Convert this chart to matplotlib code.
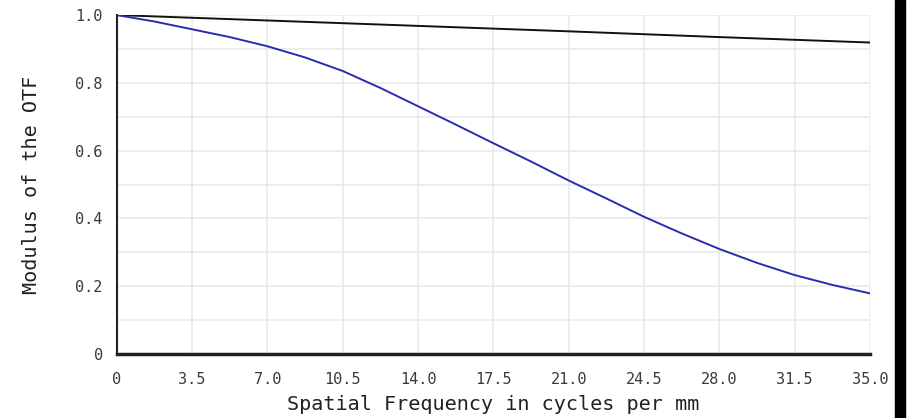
import matplotlib
matplotlib.use('Agg')
import matplotlib.pyplot as plt
from matplotlib.patches import Rectangle
import numpy as np

# spatial frequency samples (cycles per mm)
freq = [0, 1.75, 3.5, 5.25, 7.0, 8.75, 10.5, 12.25, 14.0, 15.75, 17.5,
        19.25, 21.0, 22.75, 24.5, 26.25, 28.0, 29.75, 31.5, 33.25, 35.0]
# traced MTF
mtf_lens = [1.0, 0.981, 0.958, 0.935, 0.908, 0.875, 0.835, 0.785, 0.731,
            0.677, 0.622, 0.568, 0.512, 0.459, 0.405, 0.356, 0.310, 0.269,
            0.233, 0.204, 0.179]
# diffraction limit
freq_diff = [0, 7.0, 14.0, 21.0, 28.0, 35.0]
mtf_diff = [1.0, 0.984, 0.968, 0.952, 0.935, 0.919]

xticks = np.arange(0, 35.01, 3.5)
xtick_labels = ['0'] + ['%.1f' % v for v in xticks[1:]]
yticks = [0, 0.2, 0.4, 0.6, 0.8, 1.0]
ytick_labels = ['0', '0.2', '0.4', '0.6', '0.8', '1.0']

mono = 'DejaVu Sans Mono'
txt_col = '#3a3a3a'

fig = plt.figure(figsize=(9.09, 4.18), dpi=100)
ax = fig.add_axes([0.1284, 0.153, 0.8286, 0.811])

ax.plot(freq_diff, mtf_diff, color='#111111', lw=1.4, zorder=3)
ax.plot(freq, mtf_lens, color='#2b2bb0', lw=1.4, zorder=4)

ax.set_xlim(0, 35)
ax.set_ylim(0, 1.0)
ax.set_xticks(xticks)
ax.set_xticklabels(xtick_labels, fontfamily=mono, fontsize=11, color=txt_col)
ax.set_yticks(yticks)
ax.set_yticklabels(ytick_labels, fontfamily=mono, fontsize=11, color=txt_col)
ax.set_yticks(np.arange(0, 1.01, 0.1), minor=True)
ax.tick_params(axis='both', which='both', length=0)
ax.tick_params(axis='x', pad=13)
ax.tick_params(axis='y', pad=10)
ax.grid(True, which='both', color='#e8e8e8', lw=1.1, zorder=0)

for side in ('top', 'right'):
    ax.spines[side].set_visible(False)
ax.spines['left'].set_color('#222222')
ax.spines['left'].set_linewidth(1.5)
ax.spines['bottom'].set_color('#222222')
ax.spines['bottom'].set_linewidth(2.5)

ax.set_xlabel('Spatial Frequency in cycles per mm', fontfamily=mono,
              fontsize=14.5, color='#222222', labelpad=6)
ax.set_ylabel('Modulus of the OTF', fontfamily=mono, fontsize=14.5,
              color='#222222', labelpad=25)

# dark bar along the right edge of the picture
fig.patches.append(Rectangle((895 / 909, 0), 10 / 909, 1,
                             transform=fig.transFigure, color='black'))

fig.savefig('out.png', dpi=100)
plt.close(fig)
